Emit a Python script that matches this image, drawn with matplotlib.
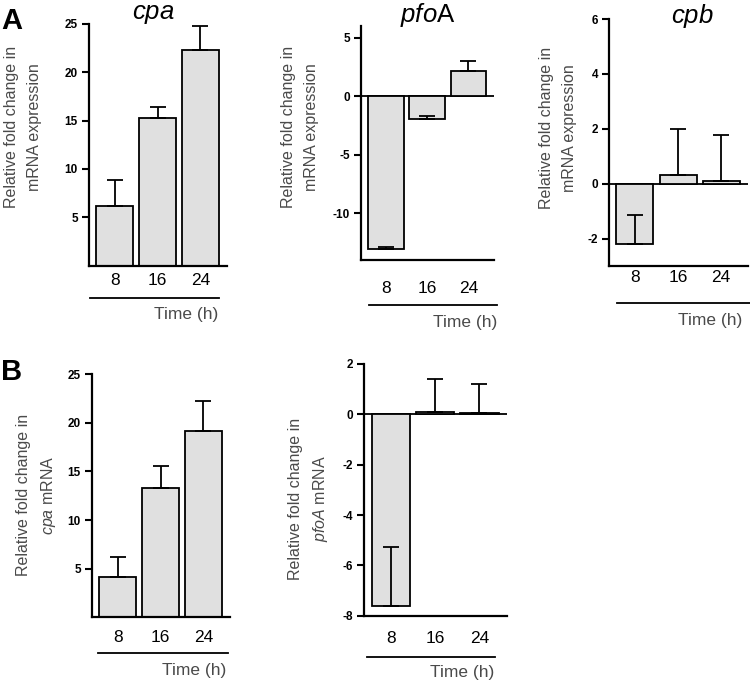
import matplotlib
matplotlib.use('Agg')
import matplotlib.pyplot as plt
from matplotlib.lines import Line2D

plt.rcParams['font.family'] = ['Liberation Sans', 'DejaVu Sans']
plt.rcParams['mathtext.fontset'] = 'custom'
plt.rcParams['mathtext.it'] = 'Liberation Sans:italic'
plt.rcParams['mathtext.rm'] = 'Liberation Sans'

W, H = 750, 683

TIMES = ['8', '16', '24']

# panel A: relative fold change in mRNA expression
cpa_a = [6.2, 15.3, 22.3]
cpa_a_err = [2.7, 1.1, 2.5]
pfoa_a = [-13.1, -2.0, 2.1]
pfoa_a_err = [0.2, 0.3, 0.9]
cpb_a = [-2.2, 0.33, 0.08]
cpb_a_err = [1.05, 1.67, 1.7]

# panel B
cpa_b = [4.1, 13.3, 19.1]
cpa_b_err = [2.15, 2.3, 3.1]
pfoa_b = [-7.6, 0.1, 0.05]
pfoa_b_err = [2.33, 1.29, 1.15]

BAR_COLOR = '#e0e0e0'
TEXT_GRAY = '#4a4a4a'


def px_axes(fig, x0, x1, ytop, ybot):
    return fig.add_axes([x0 / W, 1 - ybot / H, (x1 - x0) / W, (ybot - ytop) / H])


def fig_xy(x, y):
    return x / W, 1 - y / H


def draw_panel(fig, box, values, errors, ylim, yticks, xpad):
    ax = px_axes(fig, *box)
    x = range(len(values))
    ax.bar(x, values, width=0.86, color=BAR_COLOR, edgecolor='black', linewidth=1.3, zorder=2)
    # one-sided error bars, pointing up (inward for negative bars)
    ax.errorbar(x, values, yerr=[[0] * len(errors), errors], fmt='none', ecolor='black',
                elinewidth=1.3, capsize=6, capthick=1.3, zorder=3)
    ax.set_xlim(-0.6, 2.62)
    ax.set_ylim(*ylim)
    if ylim[0] < 0:
        ax.axhline(0, color='black', linewidth=1.3, zorder=1)
    for s in ['top', 'right']:
        ax.spines[s].set_visible(False)
    for s in ['left', 'bottom']:
        ax.spines[s].set_linewidth(1.6)
    ax.set_yticks(yticks)
    ax.set_yticklabels([str(t) for t in yticks], fontsize=8.5, fontweight='bold')
    ax.tick_params(axis='y', length=5, width=1.5, pad=3)
    ax.set_xticks(list(x))
    ax.set_xticklabels(TIMES, fontsize=12.5)
    ax.tick_params(axis='x', length=0, pad=xpad)
    ax.patch.set_alpha(0)
    return ax


def time_axis_label(fig, x0, x1, y, tx, ty):
    fig.add_artist(Line2D([x0 / W, x1 / W], [1 - y / H, 1 - y / H], color='black', linewidth=1.3))
    fig.text(*fig_xy(tx, ty), 'Time (h)', fontsize=12.5, color=TEXT_GRAY, ha='center', va='center')


def ylabel(fig, x, y, text):
    fig.text(*fig_xy(x, y), text, rotation=90, fontsize=11.5, color=TEXT_GRAY,
             ha='center', va='center', multialignment='center', linespacing=1.6)


def main():
    fig = plt.figure(figsize=(W / 100, H / 100), dpi=100)

    draw_panel(fig, (89, 227, 23.7, 265.7), cpa_a, cpa_a_err, (0, 25), [5, 10, 15, 20, 25], 5)
    draw_panel(fig, (361, 494, 25.8, 260), pfoa_a, pfoa_a_err, (-14, 6), [5, 0, -5, -10], 15)
    draw_panel(fig, (609, 748, 19, 266), cpb_a, cpb_a_err, (-3, 6), [6, 4, 2, 0, -2], 3)
    draw_panel(fig, (92, 230, 374, 617.4), cpa_b, cpa_b_err, (0, 25), [5, 10, 15, 20, 25], 9)
    draw_panel(fig, (364, 507, 364, 615.7), pfoa_b, pfoa_b_err, (-8, 2), [2, 0, -2, -4, -6, -8], 11)

    fig.text(*fig_xy(153, 14), r'$\mathit{cpa}$', fontsize=18.5, ha='center', va='center')
    fig.text(*fig_xy(428, 15), r'$\mathit{pfo}$A', fontsize=18.5, ha='center', va='center')
    fig.text(*fig_xy(692, 16), r'$\mathit{cpb}$', fontsize=18.5, ha='center', va='center')

    fig.text(*fig_xy(12, 21), 'A', fontsize=21, fontweight='bold', ha='center', va='center')
    fig.text(*fig_xy(12, 372), 'B', fontsize=21, fontweight='bold', ha='center', va='center')

    ylabel(fig, 23, 127, 'Relative fold change in\nmRNA expression')
    ylabel(fig, 300, 127, 'Relative fold change in\nmRNA expression')
    ylabel(fig, 558, 128, 'Relative fold change in\nmRNA expression')
    ylabel(fig, 37, 495, 'Relative fold change in\n$\\mathit{cpa}$ mRNA')
    ylabel(fig, 309, 499, 'Relative fold change in\n$\\mathit{pfoA}$ mRNA')

    time_axis_label(fig, 90, 219, 298, 186, 314)
    time_axis_label(fig, 369, 497, 305, 465, 322)
    time_axis_label(fig, 617, 750, 303, 710, 321)
    time_axis_label(fig, 98, 228, 653, 194, 671)
    time_axis_label(fig, 367, 495, 657, 462, 673)

    fig.savefig('out.png', dpi=100, facecolor='w')
    plt.close('all')


if __name__ == '__main__':
    main()
